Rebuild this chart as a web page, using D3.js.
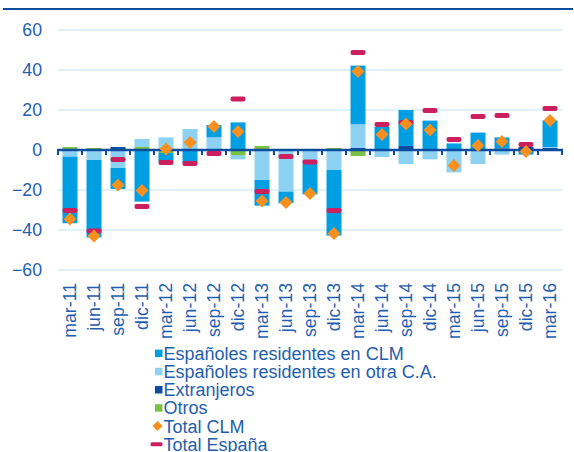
<!DOCTYPE html>
<html><head><meta charset="utf-8">
<script src="https://cdn.jsdelivr.net/npm/d3@7"></script>
<style>body{margin:0;background:#fff}svg{display:block;font-family:"Liberation Sans",Arial,sans-serif}</style>
</head><body><svg id="c" width="574" height="452"></svg>
<script>
const categories = ["mar-11","jun-11","sep-11","dic-11","mar-12","jun-12","sep-12","dic-12","mar-13","jun-13","sep-13","dic-13","mar-14","jun-14","sep-14","dic-14","mar-15","jun-15","sep-15","dic-15","mar-16"];
const espClm   = [-33.3,-38.7,-10.5,-25.8,-4.3,-6.5,6.2,13.8,-12.8,-5.8,-15.2,-32.8,29.4,11.0,18.0,14.7,3.3,8.7,5.5,-2.3,13.3];
const espOtra  = [-3.3,-5.0,-9.0,4.0,6.3,10.5,6.3,-2.2,-15.0,-20.8,-7.0,-10.0,11.8,-3.5,-7.0,-4.7,-11.2,-7.0,-2.3,0,0.5];
const extranj  = [0,0,1.5,0,0,0,0,0,0,0,0,0,1.0,0.5,2.0,0,0,0,0.8,1.5,1.0];
const otros    = [1.5,1.0,0,1.5,-1.5,0,0,-2.5,2.0,0,0,1.0,-3.0,0,0,0,0,0,0,0,0];
const totalClm = [-34.5,-43,-17.5,-20.3,0.5,3.7,11.7,9.2,-25.5,-26.3,-21.7,-41.7,39.2,7.8,13,10,-7.8,2.2,4.2,-0.8,14.7];
const totalEsp = [-30.3,-40.5,-4.75,-28.3,-6.25,-6.8,-1.75,25.5,-20.8,-3.2,-6,-30.3,48.8,12.8,13.8,19.7,5.3,16.7,17.2,2.8,20.8];
const yTicks = [-60,-40,-20,0,20,40,60];
const legendLabels = ["Españoles residentes en CLM","Españoles residentes en otra C.A.","Extranjeros","Otros","Total CLM","Total España"];

const colors = {clm:"#009ee2", otra:"#8dd1f3", ext:"#0b4d9e", otros:"#7dc142", tot:"#f7901e", esp:"#cc1f5e"};
const textColor = "#1f5eae";
const axisColor = "#0b4d9e";
const fontFam = "'Liberation Sans',Arial,sans-serif";

const rows = categories.map((c,i)=>({cat:c, clm:espClm[i], otra:espOtra[i], ext:extranj[i], otros:otros[i]}));
const keys = ["ext","otros","otra","clm"];
const series = d3.stack().keys(keys).offset(d3.stackOffsetDiverging)(rows);

const svg = d3.select("#c");
const x = d3.scaleBand().domain(categories).range([58,562]).paddingInner(0.375).paddingOuter(0.1875);
const y = d3.scaleLinear().domain([-60,60]).range([270,30]);

// top rule
svg.append("line").attr("x1",3).attr("x2",573).attr("y1",9).attr("y2",9)
  .attr("stroke",axisColor).attr("stroke-width",2);

// gridlines
svg.append("g").selectAll("line").data(yTicks.filter(v=>v!==0)).join("line")
  .attr("x1",58).attr("x2",562).attr("y1",d=>y(d)).attr("y2",d=>y(d))
  .attr("stroke","#d5ecf9").attr("stroke-width",1.5);

// y axis labels
const ya = svg.append("g").attr("transform","translate(46,0)")
  .call(d3.axisLeft(y).tickValues(yTicks).tickSize(0).tickPadding(4));
ya.select(".domain").remove();
ya.selectAll("text").attr("fill",textColor).style("font-size","17.7px").style("font-family",fontFam);

// bars
svg.append("g").selectAll("g").data(series).join("g")
  .attr("fill",d=>colors[d.key])
  .selectAll("rect").data(d=>d).join("rect")
  .attr("x",d=>x(d.data.cat))
  .attr("width",x.bandwidth())
  .attr("y",d=>y(Math.max(d[0],d[1])))
  .attr("height",d=>Math.abs(y(d[0])-y(d[1])));

// baseline axis with ticks between categories
const bounds = d3.range(categories.length+1).map(i=>x.range()[0]+i*x.step());
const base = svg.append("g");
base.append("line").attr("x1",57).attr("x2",563).attr("y1",y(0)).attr("y2",y(0))
  .attr("stroke",axisColor).attr("stroke-width",2.5);
base.selectAll("line.t").data(bounds).join("line").attr("class","t")
  .attr("x1",d=>d).attr("x2",d=>d).attr("y1",y(0)).attr("y2",y(0)+5)
  .attr("stroke",axisColor).attr("stroke-width",2);

// x labels
const xa = svg.append("g").attr("transform","translate(0,283)")
  .call(d3.axisBottom(x).tickSize(0));
xa.select(".domain").remove();
xa.selectAll("text").attr("y",0).attr("x",0).attr("dy","0.35em")
  .attr("transform","rotate(-90)").style("text-anchor","end")
  .attr("fill",textColor).style("font-size","17.7px").style("font-family",fontFam);

// Total España dashes
svg.append("g").selectAll("rect").data(totalEsp).join("rect")
  .attr("x",(d,i)=>x(categories[i])).attr("width",x.bandwidth())
  .attr("y",d=>y(d)-2.5).attr("height",5).attr("rx",2)
  .attr("fill",colors.esp);

// Total CLM diamonds
const diamond = "M0,-6.5L6.5,0L0,6.5L-6.5,0Z";
svg.append("g").selectAll("path").data(totalClm).join("path")
  .attr("d",diamond)
  .attr("transform",(d,i)=>`translate(${x(categories[i])+x.bandwidth()/2},${y(d)})`)
  .attr("fill",colors.tot);

// legend
const lg = svg.append("g").attr("transform","translate(155,0)");
const legendRows = legendLabels.map((t,i)=>({t, i, yc:353.3+i*18.2}));
const sw = [colors.clm,colors.otra,colors.ext,colors.otros];
legendRows.forEach(r=>{
  if(r.i<4){
    lg.append("rect").attr("x",0).attr("y",r.yc-3.7).attr("width",7.5).attr("height",7.5).attr("fill",sw[r.i]);
  } else if(r.i===4){
    lg.append("path").attr("d","M0,-5L5,0L0,5L-5,0Z").attr("transform",`translate(2.5,${r.yc})`).attr("fill",colors.tot);
  } else {
    lg.append("rect").attr("x",-4.5).attr("y",r.yc-2).attr("width",12).attr("height",4).attr("rx",1.5).attr("fill",colors.esp);
  }
  lg.append("text").attr("x",8.5).attr("y",r.yc).attr("dy","0.36em")
    .attr("fill",textColor).style("font-size","18px").text(r.t);
});
</script></body></html>
